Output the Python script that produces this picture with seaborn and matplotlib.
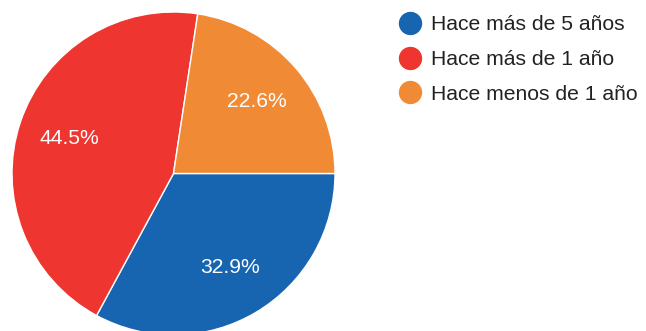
import matplotlib
matplotlib.use("Agg")
import matplotlib.pyplot as plt
from matplotlib.lines import Line2D
import seaborn as sns

categories = ["Hace más de 5 años", "Hace más de 1 año", "Hace menos de 1 año"]
shares = [32.9, 44.5, 22.6]
colors = ["#1764b1", "#ee352f", "#f18a35"]

sns.set_theme(style="white")
plt.rcParams["font.family"] = ["Liberation Sans", "DejaVu Sans"]

W, H = 646, 331
DPI = 100
FS = 15.2
fig = plt.figure(figsize=(W / DPI, H / DPI), dpi=DPI)
fig.patch.set_facecolor("white")

# pie centred at (173.5, 173.5) px from top-left, radius 161.5 px
cx, cy, r = 173.5, 173.5, 161.5
ax = fig.add_axes([(cx - r) / W, (H - cy - r) / H, 2 * r / W, 2 * r / H])
wedges, _, autotexts = ax.pie(
    shares,
    colors=colors,
    startangle=0,
    counterclock=False,
    autopct="%.1f%%",
    pctdistance=0.68,
    radius=1,
    wedgeprops=dict(edgecolor="white", linewidth=1),
    textprops=dict(color="white", fontsize=FS),
)
ax.set_xlim(-1, 1)
ax.set_ylim(-1, 1)
ax.set_aspect("equal")
ax.axis("off")

handles = [
    Line2D([0], [0], marker="o", linestyle="none", markersize=15.8,
           markerfacecolor=c, markeredgecolor=c)
    for c in colors
]

# legend: marker centres at x=410 px, first row at y=22.7 px, rows 34.9 px apart
FIRST_ROW, ROW_STEP = 22.7, 34.9
fs_px = FS * DPI / 72


def make_legend(spacing, top_px):
    return fig.legend(
        handles, categories,
        loc="upper left",
        bbox_to_anchor=(398 / W, 1 - top_px / H),
        frameon=False,
        fontsize=FS,
        handletextpad=0.45,
        labelspacing=spacing,
        handlelength=1.1,
        borderpad=0,
        borderaxespad=0,
        labelcolor="#222222",
    )


def row_centres(leg):
    fig.canvas.draw()
    rend = fig.canvas.get_renderer()
    return [H - h.get_window_extent(rend).intervaly.mean() for h in leg.legend_handles]


spacing, top = 0.5, 10.0
leg = make_legend(spacing, top)
ys = row_centres(leg)
spacing += (ROW_STEP - (ys[-1] - ys[0]) / (len(ys) - 1)) / fs_px
leg.remove()
leg = make_legend(spacing, top)
ys = row_centres(leg)
top += FIRST_ROW - ys[0]
leg.remove()
leg = make_legend(spacing, top)

fig.savefig("out.png", dpi=DPI)
